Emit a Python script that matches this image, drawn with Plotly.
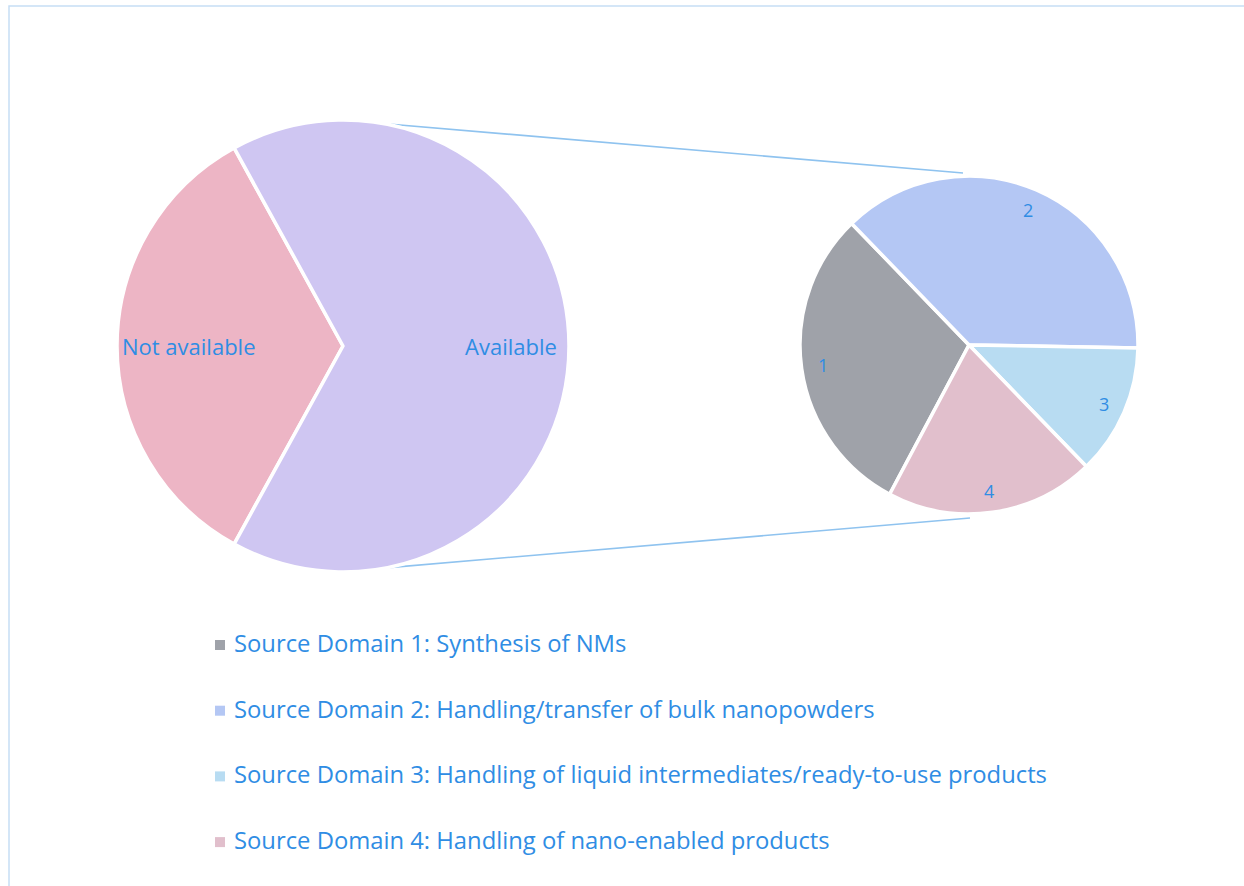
import math
import plotly.graph_objects as go

# ---- data -------------------------------------------------------------
main_labels = ["Not available", "Available"]
main_values = [34, 66]

domain_labels = ["1", "2", "3", "4"]
domain_values = [12, 15, 5, 8]
domain_names = [
    "Source Domain 1: Synthesis of NMs",
    "Source Domain 2: Handling/transfer of bulk nanopowders",
    "Source Domain 3: Handling of liquid intermediates/ready-to-use products",
    "Source Domain 4: Handling of nano-enabled products",
]

# ---- styling ----------------------------------------------------------
W, H = 1244, 886
FONT = "Open Sans"
TEXT_BLUE = "#2f8de4"
main_colors = ["#edb5c5", "#cfc6f2"]
domain_colors = ["#9fa2a9", "#b4c7f4", "#b8dcf2", "#e1bfcc"]

# pie geometry in pixels (centre x, centre y from top, radius)
LEFT = dict(cx=343, cy=346, r=226)
RIGHT = dict(cx=969, cy=345, r=169)


def px(x):
    return x / W


def py(y):
    return 1 - y / H


def domain_of(g):
    return dict(x=[px(g["cx"] - g["r"]), px(g["cx"] + g["r"])],
                y=[py(g["cy"] + g["r"]), py(g["cy"] - g["r"])])


def point_on(g, angle_deg, frac):
    a = math.radians(angle_deg)
    return g["cx"] + frac * g["r"] * math.sin(a), g["cy"] - frac * g["r"] * math.cos(a)


def mid_angles(values, rotation):
    total = sum(values)
    out, start = [], rotation
    for v in values:
        span = 360 * v / total
        out.append(start + span / 2)
        start += span
    return out


# first pie: "Available" is centred at 3 o'clock
main_rotation = 270 - 180 * main_values[0] / sum(main_values)
domain_rotation = 208

fig = go.Figure()

fig.add_trace(go.Pie(
    labels=main_labels, values=main_values, sort=False, direction="clockwise",
    rotation=main_rotation, domain=domain_of(LEFT), textinfo="none",
    marker=dict(colors=main_colors, line=dict(color="white", width=3.5)),
    showlegend=False, hoverinfo="label+value",
))

fig.add_trace(go.Pie(
    labels=domain_labels, values=domain_values, sort=False, direction="clockwise",
    rotation=domain_rotation, domain=domain_of(RIGHT), textinfo="none",
    marker=dict(colors=domain_colors, line=dict(color="white", width=3.5)),
    showlegend=False, hoverinfo="label+value",
))

annotations = []

# slice labels
main_label_frac = [0.68, 0.745]
for lab, ang, f in zip(main_labels, mid_angles(main_values, main_rotation), main_label_frac):
    x, y = point_on(LEFT, ang, f)
    annotations.append(dict(x=px(x), y=py(y), xref="paper", yref="paper", text=lab,
                            showarrow=False, xanchor="center", yanchor="middle",
                            font=dict(family=FONT, size=22, color=TEXT_BLUE)))

for lab, ang in zip(domain_labels, mid_angles(domain_values, domain_rotation)):
    x, y = point_on(RIGHT, ang, 0.87)
    annotations.append(dict(x=px(x), y=py(y), xref="paper", yref="paper", text=lab,
                            showarrow=False, xanchor="center", yanchor="middle",
                            font=dict(family=FONT, size=18, color=TEXT_BLUE)))

# legend rows
LEG_X, LEG_Y0, LEG_DY = 232, 643, 65.7
shapes = []
for i, (name, col) in enumerate(zip(domain_names, domain_colors)):
    yc = LEG_Y0 + i * LEG_DY
    annotations.append(dict(x=px(LEG_X), y=py(yc), xref="paper", yref="paper", text=name,
                            showarrow=False, xanchor="left", yanchor="middle",
                            font=dict(family=FONT, size=23.8, color=TEXT_BLUE)))
    shapes.append(dict(type="rect", xref="paper", yref="paper",
                       x0=px(215), x1=px(225), y0=py(yc + 7), y1=py(yc - 3),
                       fillcolor=col, line=dict(width=0)))

# connector lines between the two pies
top_l = point_on(LEFT, 10, 1.0)
bot_l = point_on(LEFT, 169, 1.0)
top_r = (RIGHT["cx"] - 6, RIGHT["cy"] - RIGHT["r"] - 3)
bot_r = (RIGHT["cx"] + 1, RIGHT["cy"] + RIGHT["r"] + 4)
for a, b in [(top_l, top_r), (bot_l, bot_r)]:
    shapes.append(dict(type="line", xref="paper", yref="paper", layer="below",
                       x0=px(a[0]), y0=py(a[1]), x1=px(b[0]), y1=py(b[1]),
                       line=dict(color="#8fc3ef", width=1.6)))

# chart frame
shapes.append(dict(type="rect", xref="paper", yref="paper",
                   x0=px(9), y0=-0.02, x1=1.02, y1=py(6),
                   line=dict(color="#c6def5", width=1.5), fillcolor="rgba(0,0,0,0)"))

fig.update_layout(
    width=W, height=H, margin=dict(l=0, r=0, t=0, b=0),
    paper_bgcolor="white", plot_bgcolor="white",
    annotations=annotations, shapes=shapes, showlegend=False,
)

fig.write_html("out.html")
